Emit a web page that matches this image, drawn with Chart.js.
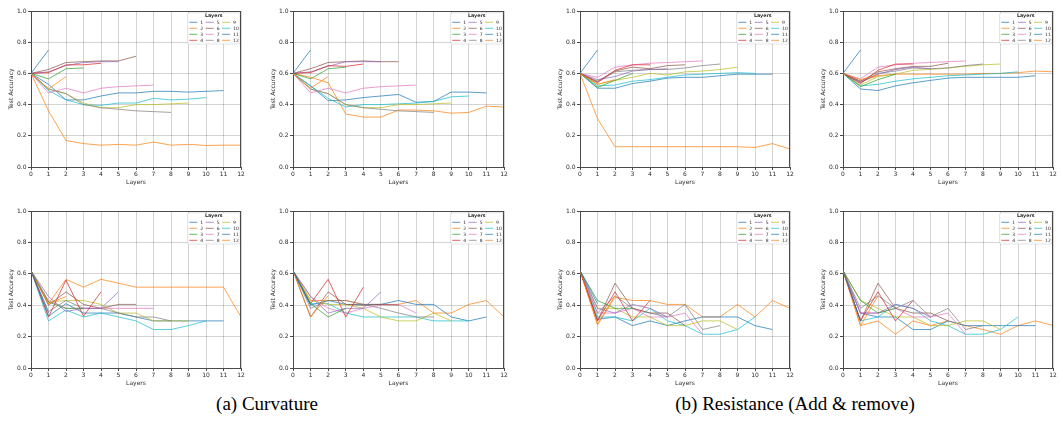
<!DOCTYPE html>
<html><head><meta charset="utf-8">
<script src="https://cdn.jsdelivr.net/npm/chart.js@4.4.1/dist/chart.umd.min.js"></script>
<style>
html,body{margin:0;padding:0;background:#fff;width:1063px;height:437px;overflow:hidden;position:relative}
canvas{position:absolute}
.cap{position:absolute;font-family:"Liberation Serif","DejaVu Serif",serif;font-size:19px;color:#000;white-space:nowrap;transform:translateX(-50%);line-height:22px}
</style></head><body>
<div class="cap" style="left:267px;top:393px">(a) Curvature</div>
<div class="cap" style="left:795px;top:393px">(b) Resistance (Add &amp; remove)</div>
<script>
// ---------- data ----------
const seriesLabels = ['1','2','3','4','5','6','7','8','9','10','11','12'];
const legendTitle = 'Layers';
const xTitle = 'Layers';
const yTitle = 'Test Accuracy';
const xTickValues = [0,1,2,3,4,5,6,7,8,9,10,11,12];
const yTickValues = [0.0,0.2,0.4,0.6,0.8,1.0];

// (a) Curvature, top-left
const curvTopLeft = [
  [0.60,0.75],
  [0.60,0.50,0.58],
  [0.60,0.565,0.63,0.635],
  [0.60,0.605,0.655,0.655,0.665],
  [0.60,0.61,0.65,0.67,0.675,0.675],
  [0.60,0.625,0.67,0.675,0.68,0.68,0.71],
  [0.60,0.475,0.505,0.475,0.505,0.515,0.52,0.525],
  [0.60,0.50,0.47,0.40,0.38,0.37,0.36,0.355,0.35],
  [0.60,0.50,0.47,0.41,0.38,0.38,0.40,0.40,0.405,0.41],
  [0.60,0.49,0.43,0.40,0.395,0.41,0.41,0.44,0.43,0.435,0.445],
  [0.60,0.53,0.43,0.43,0.455,0.475,0.475,0.485,0.485,0.48,0.485,0.49],
  [0.60,0.36,0.17,0.15,0.14,0.145,0.14,0.16,0.14,0.145,0.138,0.14,0.14]
];
// (a) Curvature, top-right
const curvTopRight = [
  [0.60,0.75],
  [0.60,0.505,0.58],
  [0.60,0.565,0.63,0.64],
  [0.60,0.605,0.65,0.645,0.66],
  [0.60,0.61,0.645,0.675,0.675,0.675],
  [0.60,0.63,0.67,0.675,0.68,0.675,0.675],
  [0.60,0.475,0.505,0.475,0.505,0.515,0.52,0.525],
  [0.60,0.50,0.47,0.40,0.38,0.37,0.36,0.355,0.35],
  [0.60,0.50,0.47,0.40,0.38,0.38,0.40,0.40,0.405,0.41],
  [0.60,0.52,0.44,0.385,0.40,0.40,0.405,0.41,0.42,0.45,0.455],
  [0.60,0.52,0.425,0.43,0.445,0.455,0.465,0.415,0.42,0.48,0.48,0.475],
  [0.60,0.575,0.54,0.34,0.32,0.32,0.365,0.365,0.36,0.345,0.35,0.39,0.385]
];
// (b) Resistance, top-left
const resTopLeft = [
  [0.60,0.75],
  [0.60,0.53,0.56],
  [0.60,0.51,0.555,0.60],
  [0.60,0.54,0.62,0.655,0.655],
  [0.60,0.56,0.58,0.615,0.625,0.63],
  [0.60,0.55,0.615,0.64,0.63,0.65,0.655],
  [0.60,0.575,0.64,0.655,0.665,0.67,0.675,0.68],
  [0.60,0.545,0.61,0.62,0.625,0.625,0.635,0.65,0.66],
  [0.60,0.53,0.555,0.575,0.60,0.59,0.61,0.615,0.625,0.64],
  [0.60,0.52,0.525,0.55,0.56,0.575,0.59,0.595,0.60,0.605,0.60],
  [0.60,0.505,0.505,0.535,0.55,0.57,0.575,0.575,0.585,0.595,0.595,0.595],
  [0.60,0.31,0.13,0.13,0.13,0.13,0.13,0.13,0.13,0.13,0.125,0.15,0.115]
];
// (b) Resistance, top-right
const resTopRight = [
  [0.60,0.75],
  [0.60,0.56,0.59],
  [0.60,0.515,0.56,0.595],
  [0.60,0.535,0.62,0.66,0.66],
  [0.60,0.545,0.595,0.625,0.64,0.63],
  [0.60,0.55,0.61,0.63,0.645,0.645,0.665],
  [0.60,0.565,0.64,0.655,0.665,0.67,0.675,0.68],
  [0.60,0.54,0.60,0.615,0.635,0.63,0.635,0.65,0.66],
  [0.60,0.525,0.58,0.595,0.62,0.625,0.635,0.645,0.655,0.66],
  [0.60,0.52,0.53,0.55,0.565,0.575,0.585,0.59,0.595,0.60,0.61],
  [0.60,0.50,0.49,0.52,0.54,0.555,0.57,0.575,0.575,0.575,0.575,0.585],
  [0.60,0.55,0.585,0.595,0.595,0.595,0.595,0.595,0.60,0.60,0.605,0.615,0.61]
];
// (a) Curvature, bottom-left
const curvBottomLeft = [
  [0.62,0.35],
  [0.62,0.41,0.455],
  [0.62,0.42,0.38,0.38],
  [0.62,0.325,0.56,0.33,0.485],
  [0.62,0.455,0.36,0.38,0.38,0.485],
  [0.62,0.40,0.485,0.405,0.38,0.405,0.405],
  [0.62,0.43,0.38,0.38,0.38,0.38,0.38,0.38],
  [0.62,0.36,0.43,0.38,0.38,0.35,0.325,0.325,0.30],
  [0.62,0.42,0.43,0.43,0.405,0.35,0.35,0.30,0.30,0.30],
  [0.62,0.30,0.37,0.325,0.35,0.325,0.30,0.245,0.245,0.27,0.30],
  [0.62,0.33,0.41,0.35,0.35,0.35,0.325,0.30,0.30,0.30,0.30,0.30],
  [0.62,0.41,0.565,0.515,0.565,0.54,0.515,0.515,0.515,0.515,0.515,0.515,0.325]
];
// (a) Curvature, bottom-right
const curvBottomRight = [
  [0.62,0.40],
  [0.62,0.325,0.46],
  [0.62,0.41,0.325,0.38],
  [0.62,0.41,0.565,0.325,0.515],
  [0.62,0.455,0.35,0.38,0.38,0.485],
  [0.62,0.325,0.485,0.405,0.40,0.405,0.40],
  [0.62,0.455,0.38,0.35,0.38,0.40,0.405,0.35],
  [0.62,0.38,0.43,0.43,0.405,0.38,0.35,0.325,0.325],
  [0.62,0.43,0.405,0.405,0.38,0.325,0.30,0.30,0.35,0.30],
  [0.62,0.41,0.41,0.35,0.325,0.325,0.325,0.325,0.30,0.30,0.30],
  [0.62,0.40,0.43,0.405,0.405,0.405,0.43,0.405,0.405,0.325,0.30,0.325],
  [0.62,0.43,0.43,0.43,0.405,0.405,0.405,0.43,0.35,0.35,0.405,0.43,0.325]
];
// (b) Resistance, bottom-left
const resBottomLeft = [
  [0.62,0.41],
  [0.62,0.28,0.46],
  [0.62,0.43,0.38,0.38],
  [0.62,0.30,0.485,0.30,0.43],
  [0.62,0.38,0.35,0.405,0.38,0.325],
  [0.62,0.30,0.54,0.38,0.35,0.35,0.27],
  [0.62,0.35,0.35,0.38,0.325,0.325,0.35,0.215],
  [0.62,0.35,0.46,0.38,0.35,0.325,0.405,0.245,0.27],
  [0.62,0.38,0.38,0.325,0.325,0.27,0.27,0.30,0.30,0.245],
  [0.62,0.325,0.325,0.30,0.38,0.30,0.27,0.215,0.215,0.245,0.325],
  [0.62,0.31,0.325,0.27,0.30,0.27,0.30,0.325,0.325,0.325,0.27,0.245],
  [0.62,0.275,0.45,0.43,0.43,0.405,0.405,0.325,0.325,0.405,0.325,0.43,0.38]
];
// (b) Resistance, bottom-right
const resBottomRight = [
  [0.62,0.30],
  [0.62,0.27,0.46],
  [0.62,0.43,0.35,0.38],
  [0.62,0.30,0.485,0.30,0.43],
  [0.62,0.35,0.35,0.405,0.38,0.325],
  [0.62,0.30,0.54,0.38,0.35,0.35,0.30],
  [0.62,0.35,0.35,0.38,0.325,0.325,0.35,0.215],
  [0.62,0.38,0.46,0.38,0.43,0.325,0.38,0.245,0.27],
  [0.62,0.43,0.38,0.325,0.325,0.27,0.27,0.30,0.30,0.245],
  [0.62,0.30,0.325,0.405,0.38,0.30,0.27,0.215,0.215,0.245,0.325],
  [0.62,0.35,0.325,0.325,0.245,0.245,0.30,0.27,0.27,0.27,0.27,0.27],
  [0.62,0.27,0.30,0.215,0.30,0.27,0.30,0.27,0.245,0.215,0.27,0.30,0.27]
];

// ---------- styling ----------
const palette = ['31,119,180','255,127,14','44,160,44','214,39,40','148,103,189','140,86,75',
                 '227,119,194','127,127,127','188,189,34','23,190,207','31,119,180','255,127,14'];
const FONT = '"DejaVu Sans", sans-serif';
const TXT = '#2a2a2a';
const AXC = '#4a4a4a';
const GRID = 'rgba(0,0,0,0.17)';

const panels = [
  {data: curvTopLeft,     x0: 31,  x1: 241,  y0: 11,  y1: 167},
  {data: curvTopRight,    x0: 293, x1: 504,  y0: 11,  y1: 167},
  {data: resTopLeft,      x0: 580, x1: 790,  y0: 11,  y1: 167},
  {data: resTopRight,     x0: 843, x1: 1053, y0: 11,  y1: 167},
  {data: curvBottomLeft,  x0: 31,  x1: 241,  y0: 211, y1: 368},
  {data: curvBottomRight, x0: 293, x1: 504,  y0: 211, y1: 368},
  {data: resBottomLeft,   x0: 580, x1: 790,  y0: 211, y1: 368},
  {data: resBottomRight,  x0: 843, x1: 1053, y0: 211, y1: 368}
];

const YW = 31, PT = 6, PR = 8, XH = 25;

const frameLegendPlugin = {
  id: 'frameLegend',
  afterDraw(chart) {
    const {ctx, chartArea: a} = chart;
    ctx.save();
    // top & right spines
    ctx.strokeStyle = AXC; ctx.lineWidth = 1;
    ctx.beginPath();
    ctx.moveTo(a.left, a.top + 0.5); ctx.lineTo(a.right, a.top + 0.5);
    ctx.moveTo(a.right - 0.5, a.top); ctx.lineTo(a.right - 0.5, a.bottom);
    ctx.stroke();
    // legend box
    const R = a.right, T = a.top;
    const bx = R - 53.5, by = T + 1.7, bw = 52.5, bh = 31.3;
    ctx.beginPath();
    if (ctx.roundRect) ctx.roundRect(bx, by, bw, bh, 1.5); else ctx.rect(bx, by, bw, bh);
    ctx.fillStyle = 'rgba(255,255,255,0.85)';
    ctx.fill();
    ctx.strokeStyle = 'rgba(0,0,0,0.18)'; ctx.lineWidth = 0.6;
    ctx.stroke();
    ctx.fillStyle = TXT;
    ctx.textAlign = 'center'; ctx.textBaseline = 'middle';
    ctx.font = 'bold 4.8px ' + FONT;
    ctx.fillText(legendTitle, bx + bw / 2, T + 5);
    ctx.font = '4.5px ' + FONT;
    ctx.textAlign = 'left';
    chart.data.datasets.forEach((d, i) => {
      const col = Math.floor(i / 4), row = i % 4;
      const lx = R - 51.7 + col * 16.4;
      const y = T + 11.3 + row * 6;
      ctx.strokeStyle = d.borderColor; ctx.lineWidth = 1;
      ctx.beginPath(); ctx.moveTo(lx, y); ctx.lineTo(lx + 8, y); ctx.stroke();
      ctx.fillStyle = TXT;
      ctx.fillText(d.label, lx + 11, y + 0.3);
    });
    ctx.restore();
  }
};

panels.forEach(p => {
  const c = document.createElement('canvas');
  const w = (p.x1 - p.x0) + YW + PR;
  const h = (p.y1 - p.y0) + PT + XH;
  c.width = w; c.height = h;
  c.style.left = (p.x0 - YW) + 'px';
  c.style.top = (p.y0 - PT) + 'px';
  c.style.width = w + 'px'; c.style.height = h + 'px';
  document.body.appendChild(c);
  const datasets = p.data.map((vals, i) => ({
    label: seriesLabels[i],
    data: vals.map((v, k) => ({x: xTickValues[k], y: v})),
    borderColor: 'rgba(' + palette[i] + ',0.72)',
    backgroundColor: 'rgba(' + palette[i] + ',0.72)',
    borderWidth: 1,
    pointRadius: 0,
    tension: 0,
    fill: false
  }));
  new Chart(c, {
    type: 'line',
    data: {datasets},
    plugins: [frameLegendPlugin],
    options: {
      responsive: false,
      animation: false,
      devicePixelRatio: 1,
      layout: {padding: {left: 0, top: PT, right: PR, bottom: 0}},
      plugins: {legend: {display: false}, tooltip: {enabled: false}, title: {display: false}},
      scales: {
        x: {
          type: 'linear', min: 0, max: 12,
          afterBuildTicks: s => { s.ticks = xTickValues.map(v => ({value: v})); },
          afterFit: s => { s.height = XH; },
          ticks: {color: TXT, font: {family: FONT, size: 6}, padding: 1, maxRotation: 0, autoSkip: false,
                  callback: v => String(v)},
          grid: {color: GRID, lineWidth: 1, tickLength: 3, tickColor: AXC, drawTicks: true},
          border: {color: AXC, width: 1},
          title: {display: true, text: xTitle, color: TXT, font: {family: FONT, size: 6}, padding: {top: 0, bottom: 6.4}}
        },
        y: {
          type: 'linear', min: 0, max: 1,
          afterBuildTicks: s => { s.ticks = yTickValues.map(v => ({value: v})); },
          afterFit: s => { s.width = YW; },
          ticks: {color: TXT, font: {family: FONT, size: 6}, padding: 1.5,
                  callback: v => Number(v).toFixed(1)},
          grid: {color: GRID, lineWidth: 1, tickLength: 3, tickColor: AXC, drawTicks: true},
          border: {color: AXC, width: 1},
          title: {display: true, text: yTitle, color: TXT, font: {family: FONT, size: 6}, padding: {top: 7.4, bottom: 0}}
        }
      }
    }
  });
});
</script>
</body></html>
